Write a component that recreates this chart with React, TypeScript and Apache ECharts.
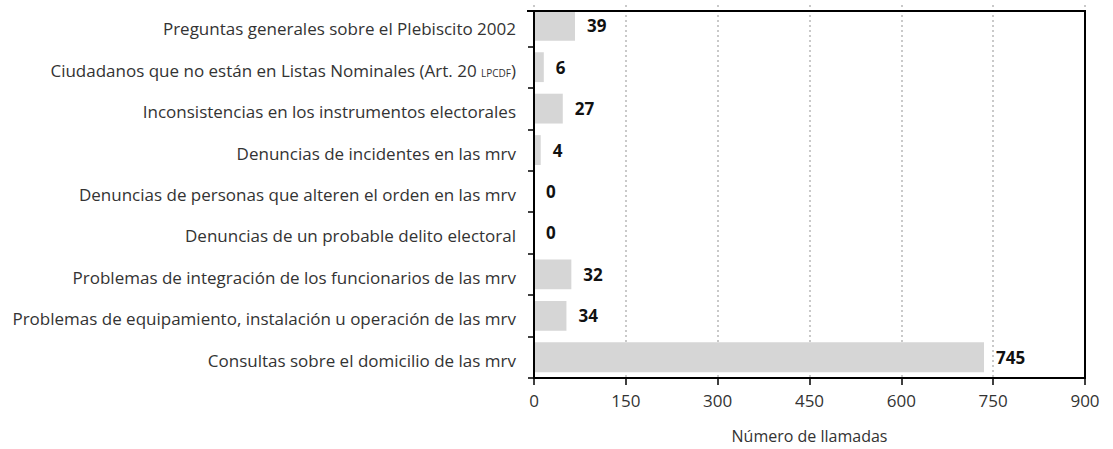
import React, { useEffect, useRef } from "react";
import * as echarts from "echarts";

const categories = [
  "Preguntas generales sobre el Plebiscito 2002",
  "Ciudadanos que no están en Listas Nominales (Art. 20 {s|LPCDF})",
  "Inconsistencias en los instrumentos electorales",
  "Denuncias de incidentes en las mrv",
  "Denuncias de personas que alteren el orden en las mrv",
  "Denuncias de un probable delito electoral",
  "Problemas de integración de los funcionarios de las mrv",
  "Problemas de equipamiento, instalación u operación de las mrv",
  "Consultas sobre el domicilio de las mrv",
];
// bar lengths as drawn in the picture
const barLengths = [67, 16, 47, 11, 0, 0, 61, 53, 735];
// printed value labels
const valueLabels = [39, 6, 27, 4, 0, 0, 32, 34, 745];
const xTicks = [0, 150, 300, 450, 600, 750, 900];

export default function App() {
  const ref = useRef<HTMLDivElement>(null);
  useEffect(() => {
    if (!ref.current) return;
    const chart = echarts.init(ref.current, undefined, { renderer: "svg" });
    const font = "'Open Sans', 'DejaVu Sans', sans-serif";
    const L = 534, R = 1085, T = 11, B = 379;
    const frame = { stroke: "#000", lineWidth: 2 };
    chart.setOption({
      animation: false,
      backgroundColor: "#fff",
      grid: {
        left: L,
        right: 1113 - R,
        top: 5,
        bottom: 449 - B,
        show: false,
      },
      graphic: [
        { type: "line", z: 100, shape: { x1: L, y1: T, x2: L, y2: B }, style: frame },
        { type: "line", z: 100, shape: { x1: L - 7, y1: T, x2: R + 1, y2: T }, style: frame },
        { type: "line", z: 100, shape: { x1: R, y1: T, x2: R, y2: B }, style: frame },
      ],
      xAxis: {
        type: "value",
        min: xTicks[0],
        max: xTicks[xTicks.length - 1],
        interval: 150,
        name: "Número de llamadas",
        nameLocation: "middle",
        nameGap: 50,
        nameTextStyle: { fontFamily: font, fontSize: 16, color: "#333" },
        axisLine: { show: true, lineStyle: { color: "#000", width: 2 } },
        axisTick: { show: true, length: 7, lineStyle: { color: "#000", width: 1.5 } },
        axisLabel: { fontFamily: font, fontSize: 17, color: "#333", margin: 14 },
        splitLine: {
          show: true,
          lineStyle: { color: "#b8b8b8", type: [2, 3], width: 1.5 },
        },
      },
      yAxis: {
        type: "category",
        data: categories,
        inverse: true,
        axisLine: { show: false },
        axisTick: {
          show: true,
          length: 6,
          interval: (i: number) => i !== 0,
          lineStyle: { color: "#000", width: 1.5 },
        },
        axisLabel: {
          fontFamily: font,
          fontSize: 17,
          color: "#333",
          margin: 18,
          padding: [6, 0, 0, 0],
          rich: {
            s: { fontFamily: font, fontSize: 10, color: "#333", padding: [6, 0, 0, 0] },
          },
        },
        splitLine: { show: false },
      },
      series: [
        {
          type: "bar",
          data: barLengths,
          barCategoryGap: "28%",
          itemStyle: { color: "#d6d6d6" },
          label: {
            show: true,
            position: "right",
            distance: 12,
            padding: [4, 0, 0, 0],
            formatter: (p: any) => String(valueLabels[p.dataIndex]),
            fontFamily: font,
            fontWeight: "bold",
            fontSize: 17,
            color: "#111",
          },
        },
      ],
    });
    return () => chart.dispose();
  }, []);
  return (
    <div
      ref={ref}
      style={{ position: "fixed", left: 0, top: 0, width: 1113, height: 449 }}
    />
  );
}
